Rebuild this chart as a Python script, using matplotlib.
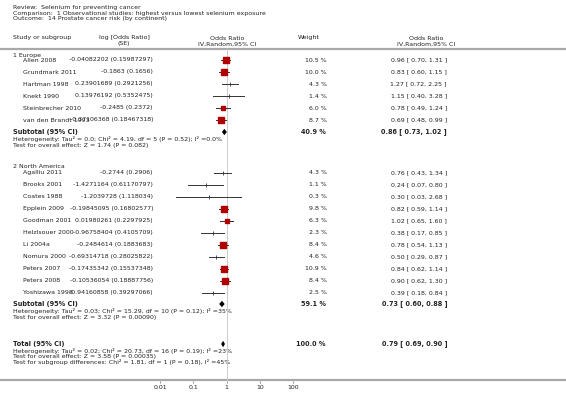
"""Forest plot: selenium exposure and prostate cancer risk, split by continent.

RevMan-style layout: text columns on a full-figure canvas, a log-scale
inset axes for the odds-ratio markers sitting between the study columns.
"""

import matplotlib as mpl
import matplotlib.pyplot as plt

W, H = 566, 404

TITLE_LINES = [
    "Review:  Selenium for preventing cancer",
    "Comparison:  1 Observational studies: highest versus lowest selenium exposure",
    "Outcome:  14 Prostate cancer risk (by continent)",
]

# Europe
EU_STUDY = ["Allen 2008", "Grundmark 2011", "Hartman 1998", "Knekt 1990",
            "Steinbrecher 2010", "van den Brandt 1993"]
EU_LOGOR = ["-0.04082202", "-0.1863", "0.23901689", "0.13976192", "-0.2485", "-0.37106368"]
EU_SE = ["0.15987297", "0.1656", "0.2921256", "0.5352475", "0.2372", "0.18467318"]
EU_WEIGHT = [10.5, 10.0, 4.3, 1.4, 6.0, 8.7]
EU_OR = [0.96, 0.83, 1.27, 1.15, 0.78, 0.69]
EU_LO = [0.70, 0.60, 0.72, 0.40, 0.49, 0.48]
EU_HI = [1.31, 1.15, 2.25, 3.28, 1.24, 0.99]
EU_SUB = (40.9, 0.86, 0.73, 1.02)
EU_HET = "Heterogeneity: Tau\u00b2 = 0.0; Chi\u00b2 = 4.19, df = 5 (P = 0.52); I\u00b2 =0.0%"
EU_TEST = "Test for overall effect: Z = 1.74 (P = 0.082)"

# North America
NA_STUDY = ["Agalliu 2011", "Brooks 2001", "Coates 1988", "Epplein 2009", "Goodman 2001",
            "Helzlsouer 2000", "Li 2004a", "Nomura 2000", "Peters 2007", "Peters 2008",
            "Yoshizawa 1998"]
NA_LOGOR = ["-0.2744", "-1.4271164", "-1.2039728", "-0.19845095", "0.01980261",
            "-0.96758404", "-0.2484614", "-0.69314718", "-0.17435342", "-0.10536054",
            "-0.94160858"]
NA_SE = ["0.2906", "0.61170797", "1.118034", "0.16802577", "0.2297925", "0.4105709",
         "0.1883683", "0.28025822", "0.15537348", "0.18887756", "0.39297066"]
NA_WEIGHT = [4.3, 1.1, 0.3, 9.8, 6.3, 2.3, 8.4, 4.6, 10.9, 8.4, 2.5]
NA_OR = [0.76, 0.24, 0.30, 0.82, 1.02, 0.38, 0.78, 0.50, 0.84, 0.90, 0.39]
NA_LO = [0.43, 0.07, 0.03, 0.59, 0.65, 0.17, 0.54, 0.29, 0.62, 0.62, 0.18]
NA_HI = [1.34, 0.80, 2.68, 1.14, 1.60, 0.85, 1.13, 0.87, 1.14, 1.30, 0.84]
NA_SUB = (59.1, 0.73, 0.60, 0.88)
NA_HET = "Heterogeneity: Tau\u00b2 = 0.03; Chi\u00b2 = 15.29, df = 10 (P = 0.12); I\u00b2 =35%"
NA_TEST = "Test for overall effect: Z = 3.32 (P = 0.00090)"

TOTAL = (100.0, 0.79, 0.69, 0.90)
TOTAL_NOTES = [
    "Heterogeneity: Tau\u00b2 = 0.02; Chi\u00b2 = 20.73, df = 16 (P = 0.19); I\u00b2 =23%",
    "Test for overall effect: Z = 3.58 (P = 0.00035)",
    "Test for subgroup differences: Chi\u00b2 = 1.81, df = 1 (P = 0.18), I\u00b2 =45%",
]

AXIS_TICKS = [0.01, 0.1, 1, 10, 100]
AXIS_LABELS = ["0.01", "0.1", "1", "10", "100"]

FS = 4.5
FS_B = 4.7
INK = "#222222"
RED = "#b00000"
GRID = "#a8a8a8"

mpl.rcParams.update({"font.family": "DejaVu Sans", "text.color": INK})


def _or_text(est, lo, hi):
    return f"{est:.2f} [ {lo:.2f}, {hi:.2f} ]"


def _study_rows(ax, af, y0, study, logor, se, weight, est, lo, hi):
    for i in range(len(study)):
        y = y0 + 12.0 * i
        ax.text(23, y, study[i], fontsize=FS, va="center", ha="left")
        ax.text(153, y, f"{logor[i]} ({se[i]})", fontsize=FS, va="center", ha="right")
        ax.text(327, y, f"{weight[i]:.1f} %", fontsize=FS, va="center", ha="right")
        ax.text(447, y, _or_text(est[i], lo[i], hi[i]), fontsize=FS, va="center", ha="right")
        af.plot([lo[i], hi[i]], [y, y], color="#333333", lw=0.7, clip_on=False, zorder=3)
        if weight[i] >= 5:
            af.plot(est[i], y, marker="s", ms=1.35 * weight[i] ** 0.5, color=RED,
                    mec=RED, clip_on=False, zorder=4)
        else:
            af.plot(est[i], y, marker="|", ms=2.6, mew=0.6, color="#333333",
                    clip_on=False, zorder=4)


def _summary(ax, af, y, label, sub, notes, note_dy):
    weight, est, lo, hi = sub
    ax.text(13, y, label, fontsize=FS_B, fontweight="bold", va="center")
    ax.text(326, y, f"{weight:.1f} %", fontsize=FS_B, fontweight="bold", va="center", ha="right")
    ax.text(447, y, _or_text(est, lo, hi), fontsize=FS_B, fontweight="bold", va="center",
            ha="right")
    af.fill([lo, est, hi, est], [y, y - 3.2, y, y + 3.2], color="black", lw=0,
            clip_on=False, zorder=4)
    for j, note in enumerate(notes):
        ax.text(13, y + note_dy[j], note, fontsize=FS, va="center")


def main():
    fig = plt.figure(figsize=(W / 100, H / 100), dpi=100)
    ax = fig.add_axes([0, 0, 1, 1])
    ax.set_xlim(0, W)
    ax.set_ylim(H, 0)
    ax.axis("off")

    # forest axes: log odds ratio, 0.01..100 spans x = 160..293 px
    af = fig.add_axes([160 / W, 0, 133 / W, 1], zorder=2)
    af.set_xscale("log")
    af.set_xlim(0.01, 100)
    af.set_ylim(H, 0)
    af.axis("off")
    af.patch.set_alpha(0)

    for i, line in enumerate(TITLE_LINES):
        ax.text(13, 8 + 5.4 * i, line, fontsize=FS, va="center")

    ax.text(13, 38, "Study or subgroup", fontsize=FS, va="center")
    ax.text(124, 38, "log [Odds Ratio]", fontsize=FS, va="center", ha="center")
    ax.text(124, 44, "(SE)", fontsize=FS, va="center", ha="center")
    ax.text(227, 38, "Odds Ratio", fontsize=FS, va="center", ha="center")
    ax.text(227, 44, "IV,Random,95% CI", fontsize=FS, va="center", ha="center")
    ax.text(309, 38, "Weight", fontsize=FS, va="center", ha="center")
    ax.text(426, 38, "Odds Ratio", fontsize=FS, va="center", ha="center")
    ax.text(426, 44, "IV,Random,95% CI", fontsize=FS, va="center", ha="center")
    ax.plot([0, W], [49, 49], color=GRID, lw=1.6)
    ax.plot([0, W], [380, 380], color=GRID, lw=1.6)

    af.plot([1, 1], [49, 380], color="#cccccc", lw=0.7, zorder=1)

    ax.text(13, 55, "1 Europe", fontsize=FS, va="center")
    _study_rows(ax, af, 60, EU_STUDY, EU_LOGOR, EU_SE, EU_WEIGHT, EU_OR, EU_LO, EU_HI)
    _summary(ax, af, 132, "Subtotal (95% CI)", EU_SUB, [EU_HET, EU_TEST], [7.5, 13])

    ax.text(13, 166, "2 North America", fontsize=FS, va="center")
    _study_rows(ax, af, 172.8, NA_STUDY, NA_LOGOR, NA_SE, NA_WEIGHT, NA_OR, NA_LO, NA_HI)
    _summary(ax, af, 304, "Subtotal (95% CI)", NA_SUB, [NA_HET, NA_TEST], [7.5, 13])

    _summary(ax, af, 344, "Total (95% CI)", TOTAL, TOTAL_NOTES, [7, 12.5, 18])

    # bottom odds-ratio scale
    at = fig.add_axes([160 / W, (H - 381) / H, 133 / W, 1e-4], zorder=1)
    at.set_xscale("log")
    at.set_xlim(0.01, 100)
    at.set_xticks(AXIS_TICKS)
    at.set_xticklabels(AXIS_LABELS)
    at.minorticks_off()
    at.set_yticks([])
    for s in at.spines.values():
        s.set_visible(False)
    at.patch.set_alpha(0)
    at.tick_params(axis="x", direction="out", length=1.5, width=0.5, color="#666666",
                   labelsize=FS, labelcolor=INK, pad=1.2)

    fig.savefig("out.png", dpi=100)
    plt.close(fig)


if __name__ == "__main__":
    main()
